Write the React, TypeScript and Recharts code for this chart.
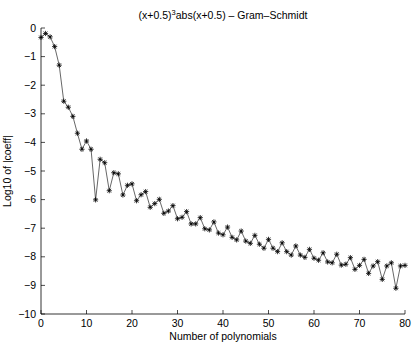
import { LineChart, Line, XAxis, YAxis } from "recharts";

const polyCount = [
  0, 1, 2, 3, 4, 5, 6, 7, 8, 9, 10, 11, 12, 13, 14, 15, 16, 17, 18, 19, 20,
  21, 22, 23, 24, 25, 26, 27, 28, 29, 30, 31, 32, 33, 34, 35, 36, 37, 38, 39, 40,
  41, 42, 43, 44, 45, 46, 47, 48, 49, 50, 51, 52, 53, 54, 55, 56, 57, 58, 59, 60,
  61, 62, 63, 64, 65, 66, 67, 68, 69, 70, 71, 72, 73, 74, 75, 76, 77, 78, 79, 80,
];

const logCoeff = [
  -0.33, -0.19, -0.31, -0.65, -1.3, -2.56, -2.77, -3.09, -3.68, -4.24, -3.95,
  -4.24, -6.01, -4.59, -4.71, -5.69, -5.06, -5.1, -5.84, -5.5, -5.45,
  -6.04, -5.83, -5.72, -6.27, -6.14, -5.99, -6.48, -6.4, -6.21, -6.67,
  -6.62, -6.42, -6.85, -6.85, -6.63, -7.02, -7.06, -6.78, -7.17, -7.23,
  -6.96, -7.32, -7.41, -7.1, -7.45, -7.53, -7.25, -7.56, -7.7, -7.39,
  -7.7, -7.82, -7.51, -7.82, -7.94, -7.62, -7.94, -8.02, -7.74, -8.05,
  -8.12, -7.86, -8.18, -8.21, -7.91, -8.29, -8.26, -8.03, -8.44, -8.3,
  -8.09, -8.58, -8.32, -8.17, -8.79, -8.32, -8.21, -9.1, -8.32, -8.3,
];

const xTicks = [0, 10, 20, 30, 40, 50, 60, 70, 80];
const yTicks = [-10, -9, -8, -7, -6, -5, -4, -3, -2, -1, 0];

const data = polyCount.map((n, i) => ({ n, v: logCoeff[i] }));

const FONT = "'Liberation Sans', Arial, Helvetica, sans-serif";
const INK = "#000";
const TICK_LEN = 4;
const FS = 10.5;

const fmt = (v: number) => (v < 0 ? "\u2212" + Math.abs(v) : String(v));

// MATLAB style ticks: drawn inward, labels only on bottom/left
const InTick = (props: any) => {
  const { x, y, payload, side } = props;
  if (side === "bottom") {
    return (
      <g>
        <line x1={x} y1={y} x2={x} y2={y - TICK_LEN} stroke={INK} strokeWidth={0.7} />
        <text x={x} y={y + 13} textAnchor="middle" fontSize={FS} fontFamily={FONT} fill={INK}>
          {fmt(payload.value)}
        </text>
      </g>
    );
  }
  if (side === "left") {
    return (
      <g>
        <line x1={x} y1={y} x2={x + TICK_LEN} y2={y} stroke={INK} strokeWidth={0.7} />
        <text x={x - 5} y={y + 3.5} textAnchor="end" fontSize={FS} fontFamily={FONT} fill={INK}>
          {fmt(payload.value)}
        </text>
      </g>
    );
  }
  if (side === "top") {
    return <line x1={x} y1={y} x2={x} y2={y + TICK_LEN} stroke={INK} strokeWidth={0.7} />;
  }
  return <line x1={x} y1={y} x2={x - TICK_LEN} y2={y} stroke={INK} strokeWidth={0.7} />;
};

const Asterisk = (props: any) => {
  const { cx, cy, index } = props;
  const r = 2.6;
  const d = r * 0.72;
  return (
    <g key={"pt" + index} stroke={INK} strokeWidth={0.8}>
      <line x1={cx - r} y1={cy} x2={cx + r} y2={cy} />
      <line x1={cx} y1={cy - r} x2={cx} y2={cy + r} />
      <line x1={cx - d} y1={cy - d} x2={cx + d} y2={cy + d} />
      <line x1={cx - d} y1={cy + d} x2={cx + d} y2={cy - d} />
    </g>
  );
};

export default function App() {
  return (
    <div style={{ position: "absolute", left: 0, top: 0, width: 415, height: 345, background: "#fff" }}>
      <LineChart
        width={415}
        height={345}
        data={data}
        margin={{ top: 28, right: 10, bottom: 11, left: 11 }}
      >
        <XAxis
          dataKey="n"
          type="number"
          domain={[0, 80]}
          ticks={xTicks}
          interval={0}
          height={20}
          tickSize={0}
          tickMargin={0}
          tickLine={false}
          axisLine={{ stroke: INK, strokeWidth: 0.8 }}
          tick={(p: any) => <InTick {...p} side="bottom" />}
        />
        <XAxis
          xAxisId="top"
          orientation="top"
          dataKey="n"
          type="number"
          domain={[0, 80]}
          ticks={xTicks}
          interval={0}
          height={0}
          tickSize={0}
          tickMargin={0}
          tickLine={false}
          axisLine={{ stroke: INK, strokeWidth: 0.8 }}
          tick={(p: any) => <InTick {...p} side="top" />}
        />
        <YAxis
          type="number"
          domain={[-10, 0]}
          ticks={yTicks}
          interval={0}
          width={30}
          tickSize={0}
          tickMargin={0}
          tickLine={false}
          axisLine={{ stroke: INK, strokeWidth: 0.8 }}
          tick={(p: any) => <InTick {...p} side="left" />}
        />
        <YAxis
          yAxisId="right"
          orientation="right"
          type="number"
          domain={[-10, 0]}
          ticks={yTicks}
          interval={0}
          width={0}
          tickSize={0}
          tickMargin={0}
          tickLine={false}
          axisLine={{ stroke: INK, strokeWidth: 0.8 }}
          tick={(p: any) => <InTick {...p} side="right" />}
        />
        <Line
          type="linear"
          dataKey="v"
          stroke={INK}
          strokeWidth={0.6}
          dot={(p: any) => <Asterisk key={"pt" + p.index} {...p} />}
          activeDot={false}
          isAnimationActive={false}
        />
      </LineChart>
      <svg
        width={415}
        height={345}
        style={{ position: "absolute", left: 0, top: 0, pointerEvents: "none" }}
      >
        <text x={223} y={19} textAnchor="middle" fontSize={FS} fontFamily={FONT} fill={INK}>
          (x+0.5)
          <tspan fontSize={7.5} dy={-4}>3</tspan>
          <tspan dy={4}>abs(x+0.5) {"\u2013"} Gram{"\u2013"}Schmidt</tspan>
        </text>
        <text x={223} y={339.5} textAnchor="middle" fontSize={FS} fontFamily={FONT} fill={INK}>
          Number of polynomials
        </text>
        <text
          x={0}
          y={0}
          transform="translate(11 171) rotate(-90)"
          textAnchor="middle"
          fontSize={FS}
          fontFamily={FONT}
          fill={INK}
        >
          Log10 of |coeff|
        </text>
      </svg>
    </div>
  );
}
